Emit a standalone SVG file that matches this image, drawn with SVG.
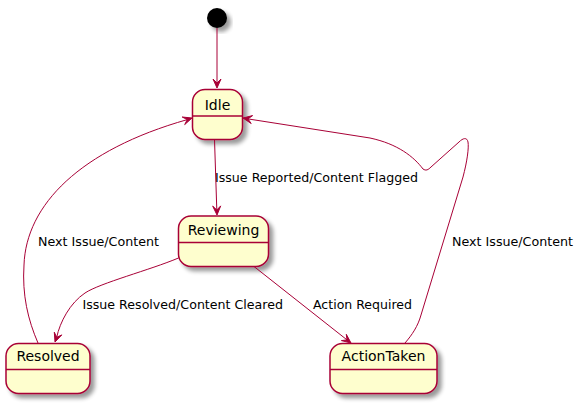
<svg xmlns="http://www.w3.org/2000/svg" width="585" height="403" viewBox="0 0 585 403">
<style>
.st{fill:#FEFECE;stroke:#A80036;stroke-width:1.5;filter:url(#sh)}
.dv{stroke:#A80036;stroke-width:1.5}
.nm{font-family:"DejaVu Sans",sans-serif;font-size:14px;fill:#000;text-anchor:middle}
.lb{font-family:"DejaVu Sans",sans-serif;font-size:13px;fill:#000}
.ln{fill:none;stroke:#A80036;stroke-width:1}
.ah{fill:#A80036;stroke:#A80036;stroke-width:1}
</style>
<defs>
<filter id="sh" x="-20%" y="-20%" width="150%" height="150%">
<feGaussianBlur in="SourceAlpha" stdDeviation="2" result="b"/>
<feOffset in="b" dx="4" dy="4" result="o"/>
<feComponentTransfer in="o" result="s"><feFuncA type="linear" slope="0.4"/></feComponentTransfer>
<feMerge><feMergeNode in="s"/><feMergeNode in="SourceGraphic"/></feMerge>
</filter>
</defs>
<rect width="585" height="403" fill="#FFFFFF"/>
<g id="start"><circle cx="217" cy="18" r="10" fill="#000" filter="url(#sh)"/></g>
<g id="Idle">
<rect class="st" x="192.5" y="89.5" width="50" height="50" rx="12.5"/>
<line class="dv" x1="192.5" y1="116" x2="242.5" y2="116"/>
<text class="nm" x="217.5" y="110">Idle</text>
</g>
<g id="Reviewing">
<rect class="st" x="178.5" y="216" width="90" height="50.5" rx="12.5"/>
<line class="dv" x1="178.5" y1="242.5" x2="268.5" y2="242.5"/>
<text class="nm" x="223.5" y="235">Reviewing</text>
</g>
<g id="Resolved">
<rect class="st" x="6" y="343.5" width="84" height="50" rx="12.5"/>
<line class="dv" x1="6" y1="369.5" x2="90" y2="369.5"/>
<text class="nm" x="48" y="361">Resolved</text>
</g>
<g id="ActionTaken">
<rect class="st" x="330" y="343.5" width="107" height="50" rx="12.5"/>
<line class="dv" x1="330" y1="369.5" x2="437" y2="369.5"/>
<text class="nm" x="383.5" y="361">ActionTaken</text>
</g>
<g id="connectors">
<path class="ln" d="M217,28 L217,83"/>
<polygon class="ah" points="217,88 213,79 217,83 221,79"/>
<path class="ln" d="M214.5,139.5 L216.8,210"/>
<polygon class="ah" points="217,215 212.7,206.1 216.8,210 220.7,205.9"/>
<text class="lb" x="215" y="182" textLength="203" lengthAdjust="spacingAndGlyphs">Issue Reported/Content Flagged</text>
<path class="ln" d="M178.5,258 C150,270 100,283 85,293 C70,303 60,322 56.7,337.3"/>
<polygon class="ah" points="55,342 54.3,332.2 56.7,337.3 61.8,334.9"/>
<text class="lb" x="82.5" y="309" textLength="200.5" lengthAdjust="spacingAndGlyphs">Issue Resolved/Content Cleared</text>
<path class="ln" d="M254,266.5 L347,339.9"/>
<polygon class="ah" points="351,343 341.4,340.6 347,339.9 346.3,334.3"/>
<text class="lb" x="313" y="309" textLength="99" lengthAdjust="spacingAndGlyphs">Action Required</text>
<path class="ln" d="M38,343 C28,320 22,295 24,265 C26,205 80,150 187.3,119.6"/>
<polygon class="ah" points="192,118 182.2,117 187.3,119.6 184.7,124.6"/>
<text class="lb" x="38" y="246" textLength="121" lengthAdjust="spacingAndGlyphs">Next Issue/Content</text>
<path class="ln" d="M405,343 C412,335 418,326 421,315 L463,177 C467,162 469,148 468,142 C467,137 463,138 459,142 L431,167 C428,170 426,171 423,169 C414,157 398,144 370,138 L247.9,118.9"/>
<polygon class="ah" points="243,118 252.6,115.6 247.9,118.9 251.2,123.5"/>
<text class="lb" x="452" y="246" textLength="121" lengthAdjust="spacingAndGlyphs">Next Issue/Content</text>
</g>
</svg>
